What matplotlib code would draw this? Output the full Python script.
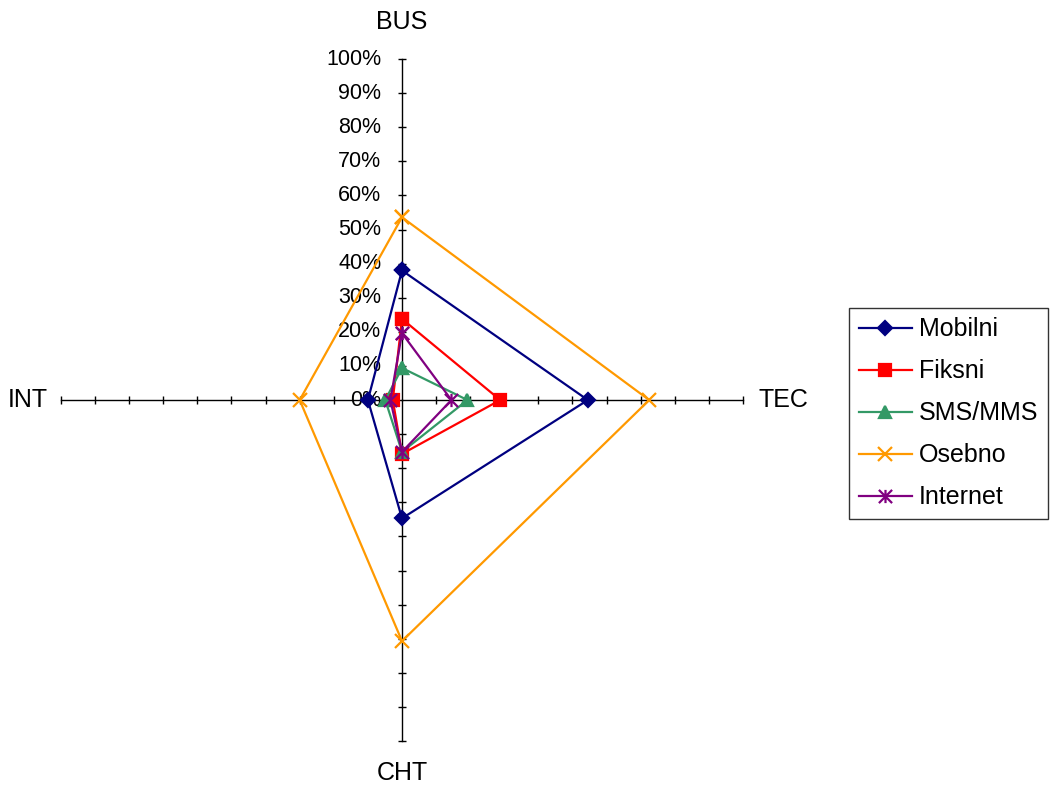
import numpy as np
import matplotlib
matplotlib.use("Agg")
import matplotlib.pyplot as plt
from matplotlib.path import Path

plt.rcParams['font.family'] = ['Liberation Sans', 'DejaVu Sans']

categories = ["BUS", "TEC", "CHT", "INT"]
series_names = ["Mobilni", "Fiksni", "SMS/MMS", "Osebno", "Internet"]
mobilni = [0.38, 0.545, 0.347, 0.10]
fiksni = [0.238, 0.288, 0.158, 0.027]
sms_mms = [0.094, 0.192, 0.152, 0.049]
osebno = [0.536, 0.725, 0.707, 0.30]
internet = [0.196, 0.145, 0.152, 0.034]
tick_values = [0.0, 0.1, 0.2, 0.3, 0.4, 0.5, 0.6, 0.7, 0.8, 0.9, 1.0]
tick_labels = ["0%", "10%", "20%", "30%", "40%", "50%", "60%", "70%", "80%", "90%", "100%"]

colors = ["#000080", "#FF0000", "#339966", "#FF9900", "#800080"]
star = Path([(0, -1), (0, 1), (-1, -1), (1, 1), (-1, 1), (1, -1)],
            [Path.MOVETO, Path.LINETO, Path.MOVETO, Path.LINETO, Path.MOVETO, Path.LINETO])
markers = ["D", "s", "^", "x", star]
msizes = [7.5, 8, 9, 10.5, 9.5]

fig = plt.figure(figsize=(10.5, 7.85), dpi=100)
ax = fig.add_axes([0.0581, 0.0560, 0.6495, 0.8688], projection="polar")
ax.set_theta_zero_location("N")
ax.set_theta_direction(-1)
ax.set_ylim(0, 1)
ax.grid(False)
ax.spines["polar"].set_visible(False)
ax.set_xticks([])
ax.set_yticks([])
ax.patch.set_alpha(0)

n = len(categories)
angles = [i * 2 * np.pi / n for i in range(n)]

# axes lines and tick marks
for i, th in enumerate(angles):
    ax.plot([th, th], [0, 1], color="black", lw=1, zorder=1, clip_on=False)
    mk = "_" if i % 2 == 0 else "|"
    ax.plot([th] * (len(tick_values) - 1), tick_values[1:], linestyle="none",
            marker=mk, markersize=6, markeredgewidth=1, color="black", zorder=1, clip_on=False)

# tick labels on top axis
for v, lab in zip(tick_values, tick_labels):
    ax.annotate(lab, xy=(0, v), xytext=(-15, 0), textcoords="offset points",
                ha="right", va="center", fontsize=15.5, annotation_clip=False)

# category labels
label_r = [1.108, 1.12, 1.094, 1.097]
for th, lab, r in zip(angles, categories, label_r):
    ax.text(th, r, lab, ha="center", va="center", fontsize=18, clip_on=False)

all_series = [mobilni, fiksni, sms_mms, osebno, internet]
for name, vals, c, m, ms in zip(series_names, all_series, colors, markers, msizes):
    th = angles + [angles[0]]
    r = list(vals) + [vals[0]]
    ax.plot(th, r, color=c, lw=1.6, marker=m, markersize=ms, markerfacecolor=c,
            markeredgecolor=c, markeredgewidth=1.6, label=name, zorder=3, clip_on=False)

leg = fig.legend(loc="upper left", bbox_to_anchor=(849 / 1050, 1 - 308 / 785),
                 bbox_transform=fig.transFigure, borderaxespad=0, frameon=True,
                 fancybox=False, edgecolor="black", fontsize=18, handlelength=2.15,
                 labelspacing=0.72, handletextpad=0.27, borderpad=0.38)
leg.get_frame().set_linewidth(1)

fig.savefig("out.png", dpi=100)
